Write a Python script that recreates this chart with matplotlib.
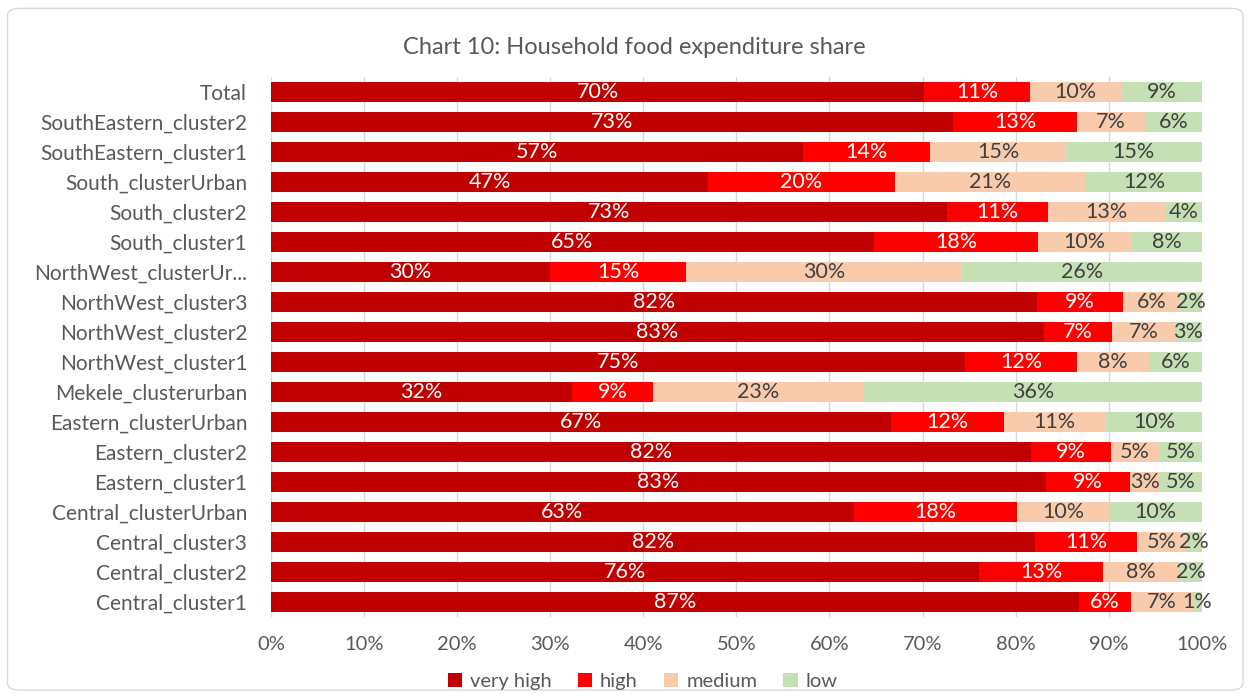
import numpy as np
import matplotlib
matplotlib.use("Agg")
import matplotlib.pyplot as plt
from matplotlib.patches import FancyBboxPatch

plt.rcParams['font.family'] = ['Lato', 'DejaVu Sans']

# categories, top to bottom as in the chart
regions = ["Total", "SouthEastern_cluster2", "SouthEastern_cluster1",
           "South_clusterUrban", "South_cluster2", "South_cluster1",
           "NorthWest_clusterUr...", "NorthWest_cluster3", "NorthWest_cluster2",
           "NorthWest_cluster1", "Mekele_clusterurban", "Eastern_clusterUrban",
           "Eastern_cluster2", "Eastern_cluster1", "Central_clusterUrban",
           "Central_cluster3", "Central_cluster2", "Central_cluster1"]

very_high = [70.2, 73.3, 57.2, 47.0, 72.6, 64.8, 30.0, 82.3, 83.0, 74.6, 32.4, 66.6, 81.6, 83.3, 62.6, 82.1, 76.1, 86.8]
high      = [11.3, 13.3, 13.6, 20.0, 10.9, 17.6, 14.6, 9.2, 7.4, 12.0, 8.6, 12.1, 8.6, 9.0, 17.6, 10.9, 13.3, 5.6]
medium    = [9.9, 7.3, 14.6, 20.6, 12.6, 10.0, 29.6, 6.2, 6.7, 7.7, 22.7, 11.0, 5.2, 3.1, 9.8, 5.3, 8.2, 6.6]
low       = [8.6, 6.1, 14.6, 12.4, 3.9, 7.6, 25.8, 2.3, 2.9, 5.7, 36.3, 10.3, 4.6, 4.6, 10.0, 1.7, 2.4, 1.0]

series = [("very high", very_high, "#C00000", "white"),
          ("high", high, "#FF0000", "white"),
          ("medium", medium, "#F8CBAD", "#404040"),
          ("low", low, "#C5E0B4", "#404040")]

fig = plt.figure(figsize=(12.48, 6.97), dpi=100)
ax = fig.add_axes([0.217, 0.115, 0.746, 0.775])

y = np.arange(len(regions))
left = np.zeros(len(regions))
for name, vals, color, tcolor in series:
    vals = np.array(vals)
    ax.barh(y, vals, left=left, height=0.66, color=color, label=name, zorder=3)
    for yi, l, v in zip(y, left, vals):
        ax.text(l + v / 2, yi, "%.0f%%" % v, ha="center", va="center",
                color=tcolor, fontsize=15.5, zorder=4)
    left = left + vals

ax.set_xlim(0, 100)
ax.set_ylim(len(regions) - 0.5, -0.5)
ax.set_yticks(y)
ax.set_yticklabels(regions, fontsize=15, color="#595959")
ax.set_xticks(np.arange(0, 101, 10))
ax.set_xticklabels(["%d%%" % t for t in range(0, 101, 10)], fontsize=14.5, color="#595959")
ax.tick_params(length=0, axis="both")
ax.tick_params(axis="x", pad=14)
ax.tick_params(axis="y", pad=17)
ax.grid(axis="x", color="#D9D9D9", linewidth=1, zorder=0)
for s in ax.spines.values():
    s.set_visible(False)

fig.text(0.508, 0.932, "Chart 10: Household food expenditure share",
         ha="center", va="center", fontsize=17, color="#595959")

leg = fig.legend(loc="center", bbox_to_anchor=(0.515, 0.022), ncol=4, frameon=False,
                 fontsize=14.5, handlelength=0.7, handleheight=0.7, handletextpad=0.4,
                 columnspacing=1.3, labelcolor="#595959")

border = FancyBboxPatch((0.006, 0.01), 0.99, 0.978, boxstyle="round,pad=0,rounding_size=0.01",
                        transform=fig.transFigure, facecolor="none",
                        edgecolor="#D9D9D9", linewidth=1)
fig.patches.append(border)

plt.savefig("out.png", dpi=100)
plt.close(fig)
